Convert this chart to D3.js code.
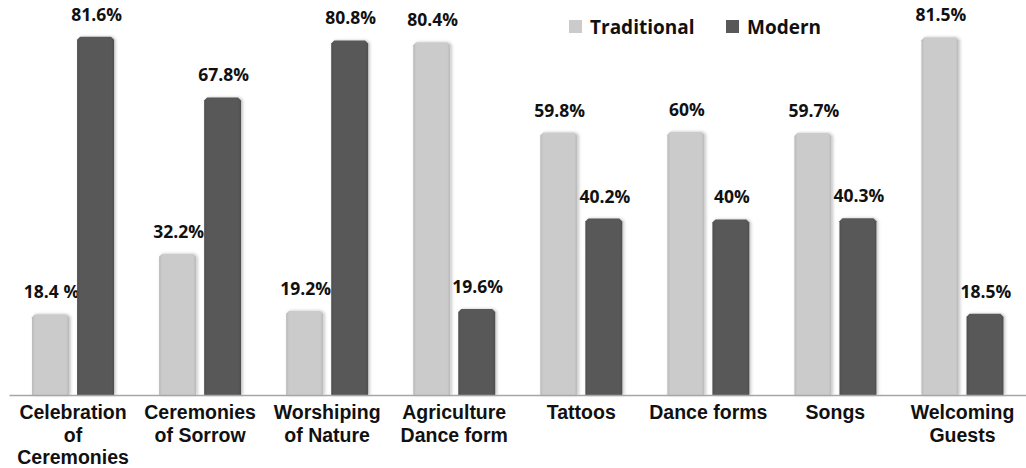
<!DOCTYPE html>
<html>
<head>
<meta charset="utf-8">
<script src="https://cdn.jsdelivr.net/npm/d3@7"></script>
<style>
  html, body { margin: 0; padding: 0; background: #fff; }
  svg { display: block; font-family: "Open Sans", Lato, sans-serif; font-weight: 700; }
  .cat { font-family: "Liberation Sans", Arial, sans-serif; }
</style>
</head>
<body>
<svg id="chart" width="1026" height="468"></svg>
<script>
// Survey shares of traditional vs. modern practice, by cultural category
const categories = [
  ["Celebration", "of", "Ceremonies"],
  ["Ceremonies", "of Sorrow"],
  ["Worshiping", "of Nature"],
  ["Agriculture", "Dance form"],
  ["Tattoos"],
  ["Dance forms"],
  ["Songs"],
  ["Welcoming", "Guests"]
];
const traditional = [18.4, 32.2, 19.2, 80.4, 59.8, 60, 59.7, 81.5];
const modern      = [81.6, 67.8, 80.8, 19.6, 40.2, 40, 40.3, 18.5];
const traditionalLabels = ["18.4 %", "32.2%", "19.2%", "80.4%", "59.8%", "60%", "59.7%", "81.5%"];
const modernLabels      = ["81.6%", "67.8%", "80.8%", "19.6%", "40.2%", "40%", "40.3%", "18.5%"];
const seriesNames = ["Traditional", "Modern"];

const svg = d3.select("#chart");
const W = 1026, H = 468;
const margin = { left: 9.5, right: 0, top: 0, baseline: 395 };

const keys = categories.map((c, i) => i);
const x0 = d3.scaleBand().domain(keys).range([margin.left, W - margin.right]).paddingInner(0).paddingOuter(0);
const x1 = d3.scaleBand().domain(seriesNames).range([0, x0.bandwidth()]).paddingInner(0.18).paddingOuter(0.5);
const y = d3.scaleLinear().domain([0, 90]).range([margin.baseline, 0]);

const defs = svg.append("defs");
function grad(id, edge, mid) {
  const g = defs.append("linearGradient").attr("id", id).attr("x1", "0").attr("x2", "1").attr("y1", "0").attr("y2", "0");
  g.append("stop").attr("offset", "0").attr("stop-color", edge);
  g.append("stop").attr("offset", "0.08").attr("stop-color", mid);
  g.append("stop").attr("offset", "0.92").attr("stop-color", mid);
  g.append("stop").attr("offset", "1").attr("stop-color", edge);
}
grad("gTrad", "#b9b9b9", "#cbcbcb");
grad("gMod", "#4e4e4e", "#585858");
const sh = defs.append("filter").attr("id", "shadow").attr("x", "-20%").attr("y", "-5%").attr("width", "150%").attr("height", "110%");
sh.append("feDropShadow").attr("dx", 1.5).attr("dy", 0).attr("stdDeviation", 1.5).attr("flood-color", "#000").attr("flood-opacity", 0.25);

const colors = { Traditional: "url(#gTrad)", Modern: "url(#gMod)" };
const values = { Traditional: traditional, Modern: modern };
const labels = { Traditional: traditionalLabels, Modern: modernLabels };

// bar outline with slightly chamfered top corners
function barPath(x, yTop, w, yBase) {
  const c = 3;
  return `M${x},${yBase}V${yTop + c}L${x + c},${yTop}H${x + w - c}L${x + w},${yTop + c}V${yBase}Z`;
}

const groups = svg.append("g").selectAll("g")
  .data(keys).join("g")
  .attr("transform", i => `translate(${x0(i)},0)`);

seriesNames.forEach(s => {
  groups.append("path")
    .attr("d", i => barPath(x1(s), y(values[s][i]), x1.bandwidth(), y(0)))
    .attr("fill", colors[s])
    .attr("filter", "url(#shadow)");
  groups.append("text")
    .attr("x", x1(s) + x1.bandwidth() / 2 + 1)
    .attr("y", i => y(values[s][i]) - 16)
    .attr("text-anchor", "middle")
    .attr("font-size", 17.5)
    .attr("fill", "#111")
    .text(i => labels[s][i]);
});

// baseline
svg.append("line")
  .attr("x1", margin.left).attr("x2", W)
  .attr("y1", y(0) + 0.5).attr("y2", y(0) + 0.5)
  .attr("stroke", "#a6a6a6").attr("stroke-width", 1.5);

// category labels, one text per line
groups.selectAll("text.cat")
  .data(i => categories[i])
  .join("text")
  .attr("class", "cat")
  .attr("text-anchor", "middle")
  .attr("font-size", 19.5)
  .attr("fill", "#111")
  .attr("x", x0.bandwidth() / 2)
  .attr("y", (d, j) => 419 + j * 22.5)
  .text(d => d);

// legend
const legend = svg.append("g").attr("transform", "translate(569,20)");
const legendX = [0, 157];
seriesNames.forEach((s, k) => {
  const g = legend.append("g").attr("transform", `translate(${legendX[k]},0)`);
  g.append("rect").attr("width", 13).attr("height", 13).attr("fill", s === "Traditional" ? "#cbcbcb" : "#585858");
  g.append("text").attr("x", 21).attr("y", 13.5).attr("font-size", 19).attr("fill", "#111").text(s);
});
</script>
</body>
</html>
